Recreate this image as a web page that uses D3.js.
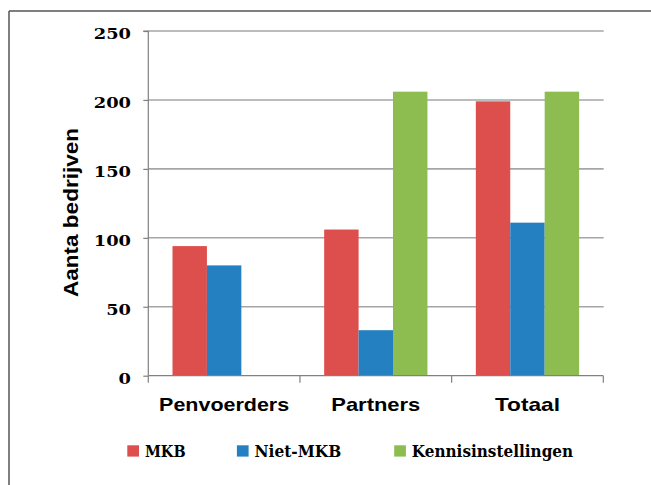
<!DOCTYPE html>
<html>
<head>
<meta charset="utf-8">
<script src="https://cdn.jsdelivr.net/npm/d3@7"></script>
<style>
  html, body { margin: 0; padding: 0; background: #ffffff; }
  svg { display: block; }
</style>
</head>
<body>
<svg id="chart" width="651" height="485"></svg>
<script>
const categories = ["Penvoerders", "Partners", "Totaal"];
const series = ["MKB", "Niet-MKB", "Kennisinstellingen"];
const mkbValues = [94, 106, 199];
const nietMkbValues = [80, 33, 111];
const kennisValues = [0, 206, 206];
const yTicks = [0, 50, 100, 150, 200, 250];
const yTitle = "Aanta bedrijven";
const colors = ["#dd4f4c", "#2480c0", "#8dbd50"];

const valuesBySeries = [mkbValues, nietMkbValues, kennisValues];
const data = categories.map((c, i) => ({
  category: c,
  values: series.map((s, j) => ({ series: s, value: valuesBySeries[j][i], color: colors[j] }))
}));

const svg = d3.select("#chart");

// frame
svg.append("line").attr("x1", 9).attr("x2", 9).attr("y1", 11).attr("y2", 485)
  .attr("stroke", "#555").attr("stroke-width", 1.5);
svg.append("line").attr("x1", 9).attr("x2", 651).attr("y1", 11).attr("y2", 11)
  .attr("stroke", "#555").attr("stroke-width", 1.5);

const x0 = d3.scaleBand().domain(categories).range([148.3, 603.3]).paddingInner(0).paddingOuter(0);
const bw = x0.bandwidth();
const x1 = d3.scaleBand().domain(series).range([24.2, bw - 24.2]).padding(0);
const y = d3.scaleLinear().domain([0, 250]).range([375.7, 31]);

// gridlines
svg.append("g").selectAll("line").data(yTicks.filter(t => t > 0)).join("line")
  .attr("x1", 148.3).attr("x2", 603.7)
  .attr("y1", d => y(d)).attr("y2", d => y(d))
  .attr("stroke", "#a6a6a6").attr("stroke-width", 1.6);

// bars
const groups = svg.append("g").selectAll("g").data(data).join("g")
  .attr("transform", d => `translate(${x0(d.category)},0)`);
groups.selectAll("rect").data(d => d.values.filter(v => v.value > 0)).join("rect")
  .attr("x", d => x1(d.series))
  .attr("width", x1.bandwidth())
  .attr("y", d => y(d.value))
  .attr("height", d => y(0) - y(d.value))
  .attr("fill", d => d.color);

// y axis
const yAxis = d3.axisLeft(y).tickValues(yTicks).tickSize(5).tickFormat("");
const ya = svg.append("g").attr("transform", "translate(148.3,0)").call(yAxis);
ya.select(".domain").attr("stroke", "#808080").attr("stroke-width", 1.2).attr("d", `M-5,${y(250)}H0V${y(0)}`);
ya.selectAll(".tick line").attr("stroke", "#808080").attr("stroke-width", 1.2);
ya.selectAll(".tick").append("text")
  .attr("x", -17.3).attr("y", 7.3).attr("dy", 0)
  .attr("text-anchor", "end")
  .attr("fill", "#000")
  .style("font-family", "'DejaVu Serif', serif")
  .style("font-size", "15px")
  .style("font-weight", "bold")
  .attr("textLength", d => String(d).length * 12.4)
  .attr("lengthAdjust", "spacingAndGlyphs")
  .text(d => d);

// x axis
const xAxis = d3.axisBottom(x0).tickSize(0).tickFormat("");
const xa = svg.append("g").attr("transform", `translate(0,${y(0)})`).call(xAxis);
xa.select(".domain").attr("stroke", "#808080").attr("stroke-width", 1.2).attr("d", `M148.3,0H603.3`);
const boundaries = categories.map(c => x0(c)).concat([x0(categories[categories.length - 1]) + bw]);
xa.append("g").selectAll("line").data(boundaries).join("line")
  .attr("x1", d => d).attr("x2", d => d).attr("y1", 0).attr("y2", 7)
  .attr("stroke", "#808080").attr("stroke-width", 1.2);

const catWidths = { "Penvoerders": 130, "Partners": 89, "Totaal": 65 };
svg.append("g").selectAll("text").data(categories).join("text")
  .attr("x", d => x0(d) + bw / 2)
  .attr("y", 410.5)
  .attr("text-anchor", "middle")
  .style("font-family", "'Liberation Sans', Arial, sans-serif")
  .style("font-size", "18.5px")
  .style("font-weight", "bold")
  .attr("textLength", d => catWidths[d])
  .attr("lengthAdjust", "spacingAndGlyphs")
  .text(d => d);

// y title
svg.append("text")
  .attr("transform", "translate(78,212.5) rotate(-90)")
  .attr("text-anchor", "middle")
  .style("font-family", "'Liberation Sans', Arial, sans-serif")
  .style("font-size", "20px")
  .style("font-weight", "bold")
  .attr("textLength", 169)
  .attr("lengthAdjust", "spacingAndGlyphs")
  .text(yTitle);

// legend
const legendX = [127.3, 236.9, 394.2];
const legendTextW = [40.7, 86.7, 161.3];
const lg = svg.append("g").selectAll("g").data(series).join("g")
  .attr("transform", (d, i) => `translate(${legendX[i]},445.3)`);
lg.append("rect").attr("width", 11.7).attr("height", 11.3).attr("fill", (d, i) => colors[i]);
lg.append("text")
  .attr("x", 17.6).attr("y", 12)
  .style("font-family", "'DejaVu Serif', serif")
  .style("font-size", "16.5px")
  .style("font-weight", "bold")
  .attr("textLength", (d, i) => legendTextW[i])
  .attr("lengthAdjust", "spacingAndGlyphs")
  .text(d => d);
</script>
</body>
</html>
